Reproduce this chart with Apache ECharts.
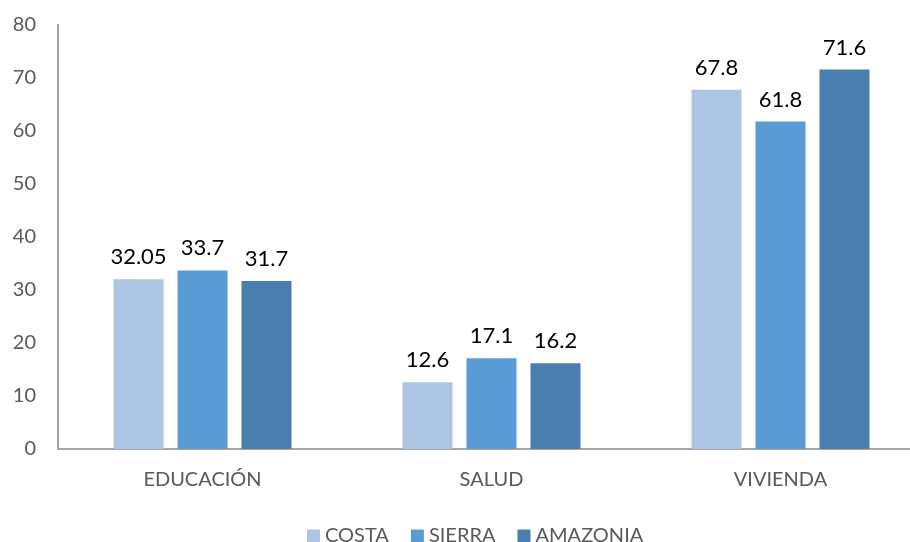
<!DOCTYPE html>
<html>
<head>
<meta charset="utf-8">
<script src="https://cdn.jsdelivr.net/npm/echarts@6/dist/echarts.min.js"></script>
<style>
  html, body { margin: 0; padding: 0; background: #fff; }
  #chart { width: 910px; height: 542px; }
</style>
</head>
<body>
<div id="chart"></div>
<script>
const categories = ['EDUCACIÓN', 'SALUD', 'VIVIENDA'];
const costa = [32.05, 12.6, 67.8];
const sierra = [33.7, 17.1, 61.8];
const amazonia = [31.7, 16.2, 71.6];

const font = 'Lato, "Open Sans", sans-serif';

const label = {
    show: true,
    position: 'top',
    distance: 11,
    color: '#000',
    fontSize: 22,
    fontFamily: font
};

const chart = echarts.init(document.getElementById('chart'));
chart.setOption({
    animation: false,
    textStyle: { fontFamily: font },
    // plot runs past the right edge of the picture, as in the reference
    grid: { left: 58, width: 867, top: 25, bottom: 93, outerBoundsMode: 'none', containLabel: false },
    legend: {
        top: 521,
        left: 302,
        itemWidth: 13,
        itemHeight: 13,
        itemGap: 22,
        icon: 'rect',
        textStyle: { fontSize: 20, color: '#595959', fontFamily: font },
        data: ['COSTA', 'SIERRA', 'AMAZONIA']
    },
    xAxis: {
        type: 'category',
        data: categories,
        axisLine: { lineStyle: { color: '#a6a6a6', width: 2 } },
        axisTick: { show: false },
        axisLabel: { color: '#595959', fontSize: 20, margin: 21, fontFamily: font }
    },
    yAxis: {
        type: 'value',
        min: 0,
        max: 80,
        interval: 10,
        axisLine: { show: true, lineStyle: { color: '#a6a6a6', width: 2 } },
        axisTick: { show: false },
        splitLine: { show: false },
        axisLabel: { color: '#595959', fontSize: 20, margin: 22, fontFamily: font }
    },
    series: [
        { name: 'COSTA', type: 'bar', data: costa, barWidth: 50, barGap: '28%',
          itemStyle: { color: '#aec6e6' }, label: label },
        { name: 'SIERRA', type: 'bar', data: sierra, barWidth: 50, barGap: '28%',
          itemStyle: { color: '#5b9bd5' }, label: label },
        { name: 'AMAZONIA', type: 'bar', data: amazonia, barWidth: 50, barGap: '28%',
          itemStyle: { color: '#4a7eb0' }, label: label }
    ]
});
</script>
</body>
</html>
